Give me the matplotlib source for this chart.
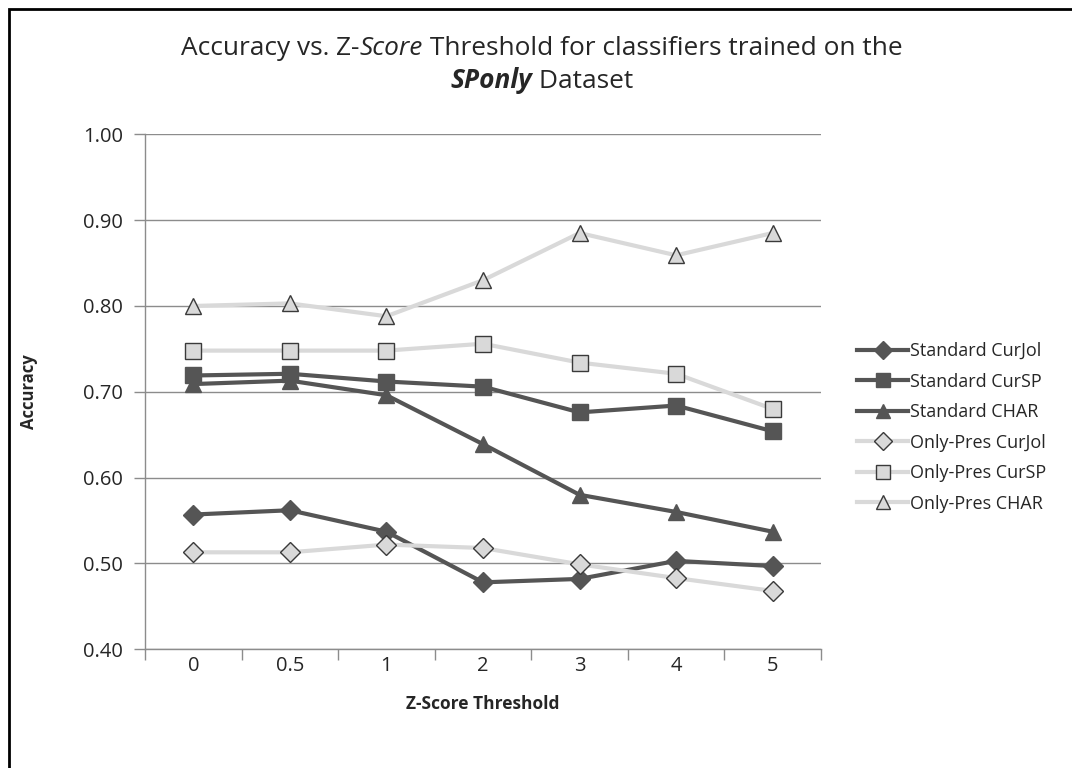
import matplotlib
matplotlib.use("Agg")
import matplotlib.pyplot as plt
from matplotlib.patches import Rectangle
from matplotlib.lines import Line2D

# Data
thresholds = ["0", "0.5", "1", "2", "3", "4", "5"]
std_curjol = [0.557, 0.562, 0.537, 0.478, 0.482, 0.503, 0.497]
std_cursp = [0.719, 0.721, 0.712, 0.706, 0.676, 0.684, 0.654]
std_char = [0.709, 0.713, 0.696, 0.639, 0.580, 0.560, 0.537]
op_curjol = [0.513, 0.513, 0.522, 0.518, 0.499, 0.483, 0.468]
op_cursp = [0.748, 0.748, 0.748, 0.756, 0.734, 0.721, 0.680]
op_char = [0.800, 0.803, 0.788, 0.830, 0.885, 0.859, 0.885]

series_names = ["Standard CurJol", "Standard CurSP", "Standard CHAR",
                "Only-Pres CurJol", "Only-Pres CurSP", "Only-Pres CHAR"]

FONT = "Open Sans"
plt.rcParams["font.family"] = [FONT, "DejaVu Sans"]

DARK = "#555555"
LIGHT = "#d9d9d9"
EDGE = "#3a3a3a"
GRID = "#8c8c8c"
TXT = "#262626"

fig = plt.figure(figsize=(10.72, 7.68), dpi=100)
fig.patch.set_facecolor("white")

# outer chart frame (only top and left edges fall inside the canvas)
fig.patches.append(Rectangle((9 / 1072, -0.2), 2.0, (768 - 9) / 768 + 0.2,
                             transform=fig.transFigure, fill=False,
                             edgecolor="black", linewidth=2.0, zorder=0))

ax = fig.add_axes([145 / 1072, 1 - 649.3 / 768, (821 - 145) / 1072, (649.3 - 134.3) / 768])
x = list(range(len(thresholds)))

styles = [
    (std_curjol, DARK, "D", DARK, DARK, 10),
    (std_cursp, DARK, "s", DARK, DARK, 11.5),
    (std_char, DARK, "^", DARK, DARK, 11.5),
    (op_curjol, LIGHT, "D", LIGHT, EDGE, 10),
    (op_cursp, LIGHT, "s", LIGHT, EDGE, 11.5),
    (op_char, LIGHT, "^", LIGHT, EDGE, 11.5),
]

handles = []
for (vals, lc, mk, mfc, mec, ms), name in zip(styles, series_names):
    ax.plot(x, vals, color=lc, linewidth=3.0, marker=mk, markersize=ms,
            markerfacecolor=mfc, markeredgecolor=mec, markeredgewidth=1.0,
            zorder=3, clip_on=False)
    handles.append(Line2D([], [], color=lc, linewidth=3.0, marker=mk,
                          markersize=ms * 0.9, markerfacecolor=mfc,
                          markeredgecolor=mec, markeredgewidth=1.0, label=name))

ax.set_xlim(-0.5, len(thresholds) - 0.5)
ax.set_ylim(0.40, 1.00)
ax.set_yticks([0.40, 0.50, 0.60, 0.70, 0.80, 0.90, 1.00])
ax.set_yticklabels([f"{v:.2f}" for v in ax.get_yticks()])
ax.set_xticks(x)
ax.set_xticklabels(thresholds)
ax.set_xticks([i - 0.5 for i in range(len(thresholds) + 1)], minor=True)

ax.yaxis.grid(True, color=GRID, linewidth=1.0, zorder=0)
ax.set_axisbelow(True)
for s in ["top", "right"]:
    ax.spines[s].set_visible(False)
for s in ["left", "bottom"]:
    ax.spines[s].set_color(GRID)
    ax.spines[s].set_linewidth(1.0)

ax.tick_params(axis="y", direction="out", length=8, color=GRID, width=1.0,
               labelsize=14.5, labelcolor=TXT, pad=8)
ax.tick_params(axis="x", which="major", length=0, labelsize=14.5,
               labelcolor=TXT, pad=5)
ax.tick_params(axis="x", which="minor", direction="out", length=8,
               color=GRID, width=1.0)

ax.set_ylabel("Accuracy", fontsize=12, fontweight="bold", color=TXT)
ax.yaxis.set_label_coords(-0.158, 0.5)
ax.set_xlabel("Z-Score Threshold", fontsize=12.5, fontweight="bold", color=TXT)
ax.xaxis.set_label_coords(0.5, -0.088)

leg = fig.legend(handles=handles, loc="upper left",
                 bbox_to_anchor=(850 / 1072, 1 - 335 / 768),
                 frameon=False, fontsize=13, labelcolor=TXT,
                 handlelength=2.8, handletextpad=0.1, labelspacing=0.69,
                 borderaxespad=0.0)

# Title with mixed font styles, composed piece by piece and centred
renderer = fig.canvas.get_renderer()


def mixed_line(pieces, y, size):
    texts = []
    for s, style, weight in pieces:
        t = fig.text(0, y, s, fontsize=size, style=style, fontweight=weight,
                     color=TXT, va="baseline", ha="left")
        texts.append(t)
    widths = [t.get_window_extent(renderer).width for t in texts]
    total = sum(widths)
    cx = 542
    left = cx - total / 2
    for t, w in zip(texts, widths):
        t.set_x(left / 1072)
        left += w
    return texts


mixed_line([("Accuracy vs. ", "normal", "normal"),
            ("Z-", "normal", "normal"),
            ("Score", "italic", "normal"),
            (" Threshold for classifiers trained on the", "normal", "normal")],
           1 - 55 / 768, 18.9)
mixed_line([("SPonly", "italic", "bold"),
            (" Dataset", "normal", "normal")],
           1 - 88 / 768, 18.9)

fig.savefig("out.png", dpi=100, facecolor="white")
